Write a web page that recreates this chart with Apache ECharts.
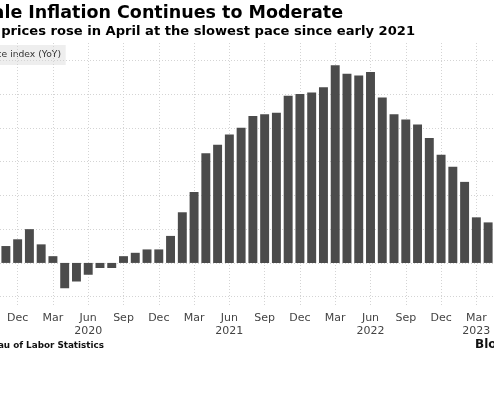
<!DOCTYPE html>
<html><head><meta charset="utf-8">
<script src="https://cdn.jsdelivr.net/npm/echarts@6/dist/echarts.min.js"></script>
<style>html,body{margin:0;padding:0;background:#fff;overflow:hidden}#c{width:494px;height:412px}</style>
</head><body><div id="c"></div>
<script>
const categories = ["2019-11","2019-12",
"2020-01","2020-02","2020-03","2020-04","2020-05","2020-06","2020-07","2020-08","2020-09","2020-10","2020-11","2020-12",
"2021-01","2021-02","2021-03","2021-04","2021-05","2021-06","2021-07","2021-08","2021-09","2021-10","2021-11","2021-12",
"2022-01","2022-02","2022-03","2022-04","2022-05","2022-06","2022-07","2022-08","2022-09","2022-10","2022-11","2022-12",
"2023-01","2023-02","2023-03","2023-04"];
const ppiYoY = [1.0,1.4,
2.0,1.1,0.4,-1.5,-1.1,-0.7,-0.3,-0.3,0.4,0.6,0.8,0.8,
1.6,3.0,4.2,6.5,7.0,7.6,8.0,8.7,8.8,8.9,9.9,10.0,
10.1,10.4,11.7,11.2,11.1,11.3,9.8,8.8,8.5,8.2,7.4,6.4,
5.7,4.8,2.7,2.4];
const tickMonths = ["2019-12","2020-03","2020-06","2020-09","2020-12","2021-03","2021-06","2021-09","2021-12","2022-03","2022-06","2022-09","2022-12","2023-03"];
const tickLabels = ["Dec","Mar","Jun\n2020","Sep","Dec","Mar","Jun\n2021","Sep","Dec","Mar","Jun\n2022","Sep","Dec","Mar\n2023"];
const yTicks = [-2,0,2,4,6,8,10,12];

const FONT = "DejaVu Sans";
const chart = echarts.init(document.getElementById('c'), null, {renderer:'canvas'});
const gLeft = -0.5, gWidth = 498.3;
const showTick = (i, v) => tickMonths.indexOf(v) >= 0;
chart.setOption({
  animation:false,
  grid:[
    {left:gLeft, width:gWidth, top:60.3, height:236.4},
    {left:gLeft, width:gWidth, top:43, height:263}
  ],
  xAxis:[
    {gridIndex:0, type:'category', data:categories, show:false},
    {gridIndex:1, type:'category', data:categories,
     axisLine:{show:false}, axisTick:{show:false},
     splitLine:{show:true, alignWithLabel:true, interval:showTick, lineStyle:{color:'#d4d4d4', type:[1,2], width:1}},
     axisLabel:{interval:showTick, margin:6, fontFamily:FONT, fontSize:11, color:'#444', lineHeight:13,
       formatter:(v)=>tickLabels[tickMonths.indexOf(v)]}
    }
  ],
  yAxis:[
    {gridIndex:0, type:'value', min:yTicks[0], max:yTicks[yTicks.length-1], interval:2,
     axisLabel:{show:false}, axisLine:{show:false}, axisTick:{show:false},
     splitLine:{show:true, lineStyle:{color:'#d4d4d4', type:[1,2], width:1}}},
    {gridIndex:1, type:'value', show:false, splitLine:{show:false}}
  ],
  series:[{
    type:'bar', xAxisIndex:0, yAxisIndex:0, data:ppiYoY,
    barCategoryGap:'24%', itemStyle:{color:'#4b4b4b'}
  }],
  graphic:[
    {type:'text', right:494-343, top:4, style:{text:'Wholesale Inflation Continues to Moderate', font:'bold 17.5px "DejaVu Sans"', fill:'#000'}},
    {type:'text', right:494-415, top:25, style:{text:'US producer prices rose in April at the slowest pace since early 2021', font:'bold 13.1px "DejaVu Sans"', fill:'#000'}},
    {type:'rect', shape:{x:-150, y:45, width:215.7, height:20}, style:{fill:'#eeeeee'}},
    {type:'text', right:494-61, top:50, style:{text:'US producer price index (YoY)', font:'9.2px "DejaVu Sans"', fill:'#333'}},
    {type:'text', right:494-104, top:341, style:{text:'Source: Bureau of Labor Statistics', font:'bold 8.8px "DejaVu Sans"', fill:'#111'}},
    {type:'text', left:475, top:338.5, style:{text:'Bloomberg', font:'bold 12px "DejaVu Sans"', fill:'#111'}}
  ]
});
</script></body></html>
